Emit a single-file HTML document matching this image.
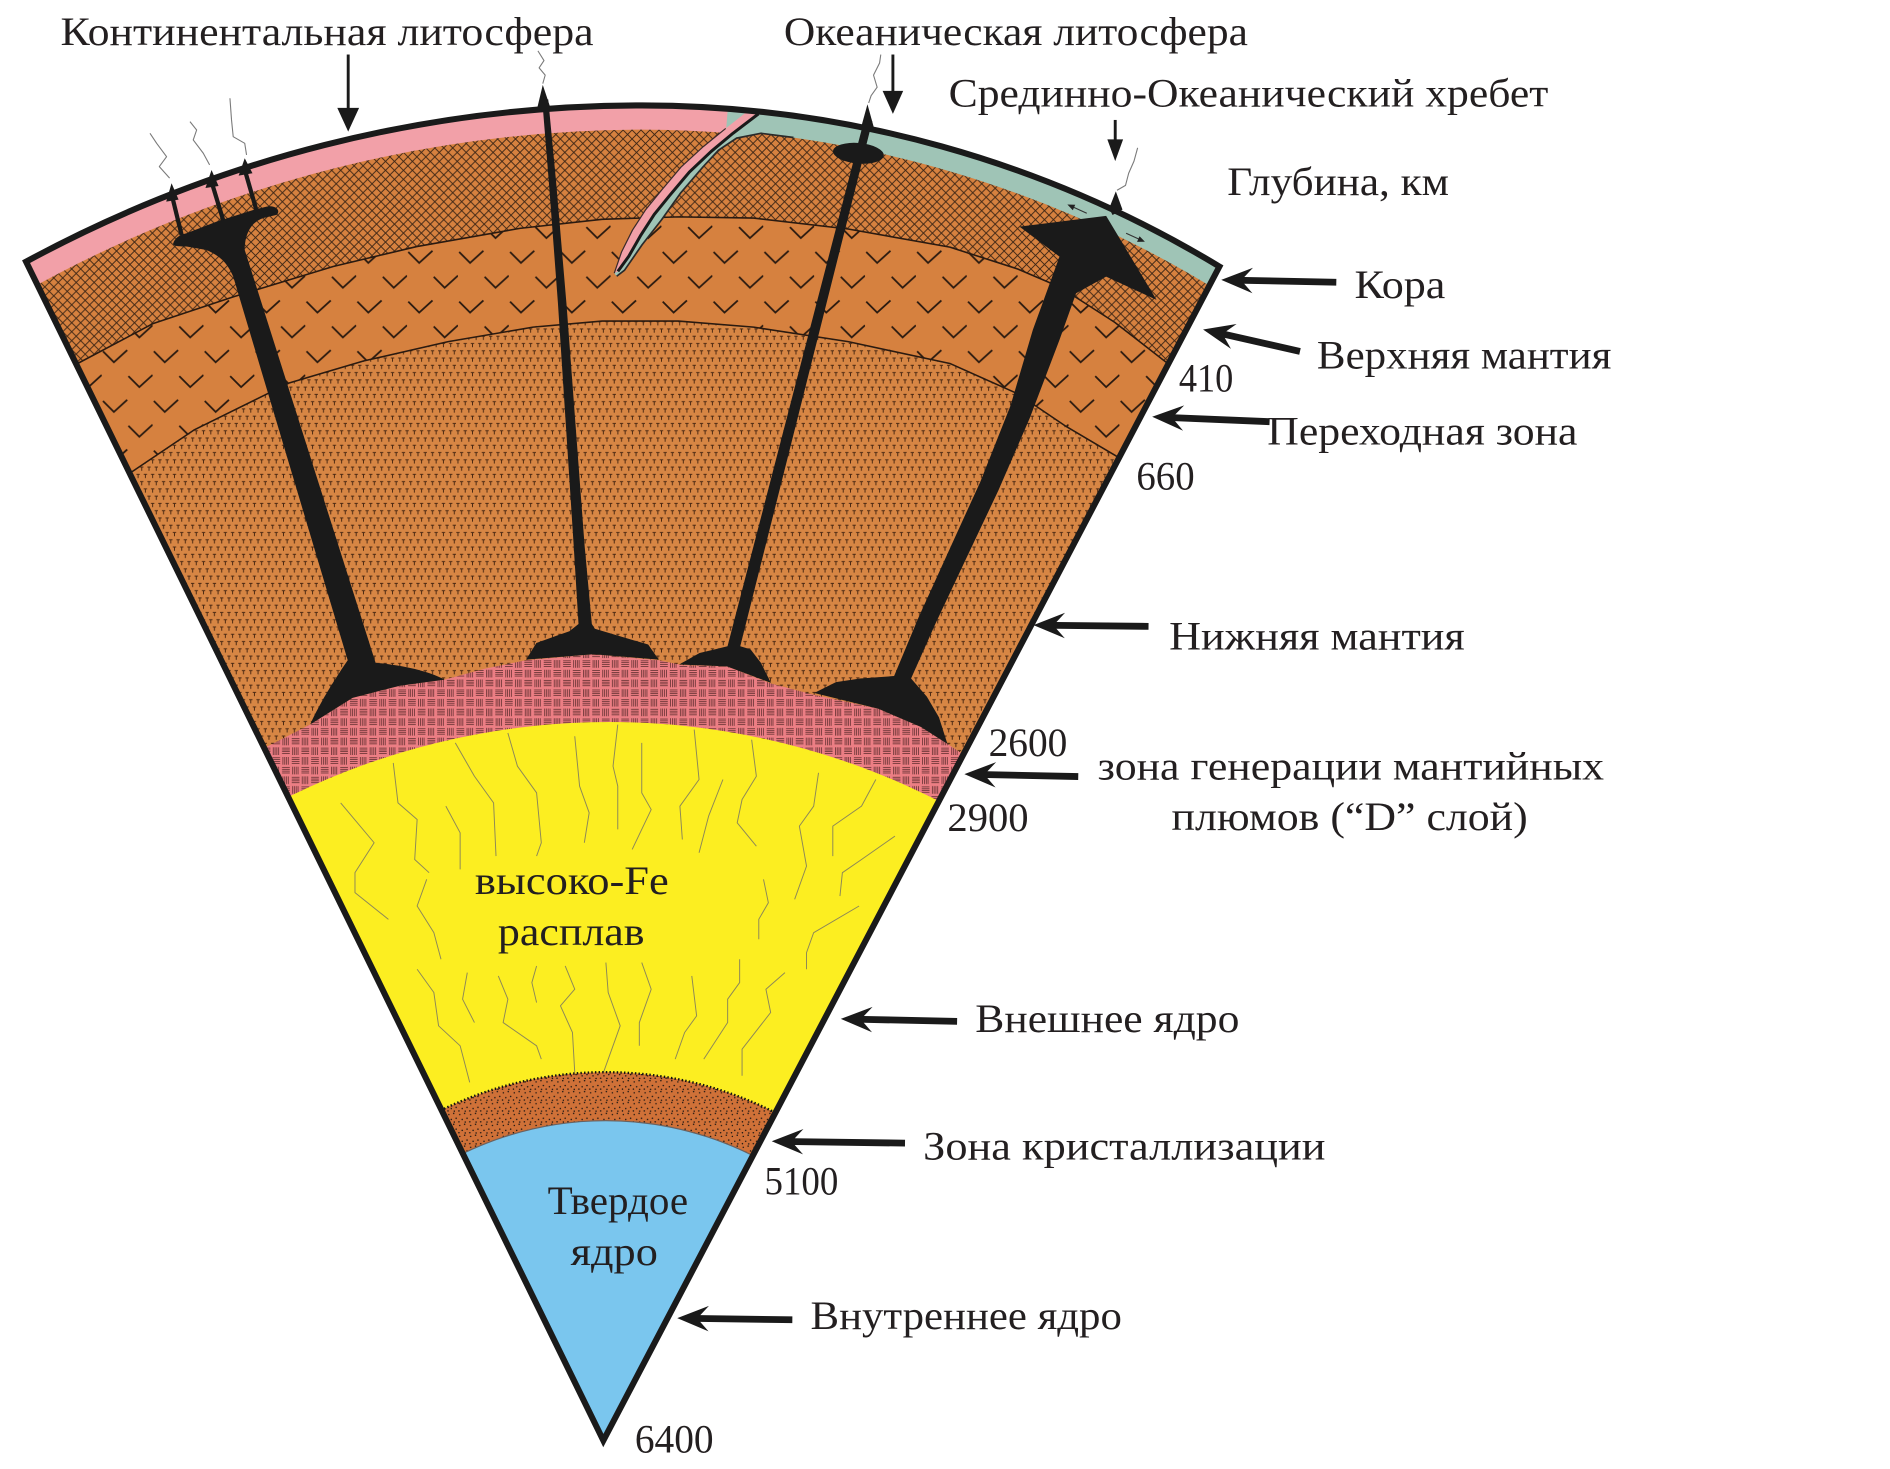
<!DOCTYPE html>
<html>
<head>
<meta charset="utf-8">
<style>
  html,body{margin:0;padding:0;background:#fff;width:1890px;height:1469px;overflow:hidden;}
  svg{display:block;}
  text{font-family:"Liberation Serif","DejaVu Serif",serif;font-size:33px;fill:#231f20;}
</style>
</head>
<body>
<svg xmlns="http://www.w3.org/2000/svg" width="1890" height="1469" viewBox="0 0 1560 1212.5">
  <defs>
    <clipPath id="wc">
      <path d="M498,1189 L21.5,216 A1066.7,1066.7 0 0 1 530,87 A920.1,920.1 0 0 1 1006.5,220 Z"/>
    </clipPath>
    <pattern id="xh" width="7.4" height="7.4" patternUnits="userSpaceOnUse">
      <rect width="7.4" height="7.4" fill="#D6813F"/>
      <path d="M0,0L7.4,7.4M7.4,0L0,7.4" stroke="#3a2414" stroke-width="0.75"/>
    </pattern>
    <pattern id="vv" width="42" height="41" patternUnits="userSpaceOnUse">
      <rect width="42" height="41" fill="#D6813F"/>
      <path d="M1,3 L10,12 L21,2 M22,23.5 L31,32.5 L42,22.5" stroke="#2a1a10" stroke-width="1.5" fill="none"/>
    </pattern>
    <pattern id="tt" width="6" height="12" patternUnits="userSpaceOnUse">
      <rect width="6" height="12" fill="#D78644"/>
      <path d="M1.6,1.5H4.4M3,1.5V4.6M-1.4,7.5H1.4M0,7.5V10.6M4.6,7.5H7.4M6,7.5V10.6" stroke="#4a2812" stroke-width="0.8"/>
    </pattern>
    <pattern id="dd" width="16" height="16" patternUnits="userSpaceOnUse">
      <rect width="16" height="16" fill="#EC7E84"/>
      <path d="M0.8,1.5H7.2M0.8,3H7.2M0.8,4.5H7.2M0.8,6H7.2
               M9.5,0.8V7.2M11,0.8V7.2M12.5,0.8V7.2M14,0.8V7.2
               M1.5,8.8V15.2M3,8.8V15.2M4.5,8.8V15.2M6,8.8V15.2
               M8.8,9.5H15.2M8.8,11H15.2M8.8,12.5H15.2M8.8,14H15.2" stroke="#3a1818" stroke-width="0.5"/>
    </pattern>
    <pattern id="dots" width="9" height="9" patternUnits="userSpaceOnUse">
      <rect width="9" height="9" fill="#CF7138"/>
      <g fill="#111">
        <circle cx="1.5" cy="2" r="0.6"/><circle cx="5.5" cy="1" r="0.6"/>
        <circle cx="7.5" cy="5" r="0.6"/><circle cx="3.5" cy="6" r="0.6"/>
        <circle cx="0.8" cy="8" r="0.6"/><circle cx="6" cy="8.2" r="0.6"/>
      </g>
    </pattern>
  </defs>

  <g clip-path="url(#wc)">
    <rect x="0" y="0" width="1100" height="1200" fill="url(#xh)"/>
    <path d="M20,322 L66,299 L126.5,267 L192.5,245 L275,220 L344,203.5 L429,188.5 L497,181 L560,179 L622,180 L700,189 L784,204 L840,222 L875,237 L920,266 L960,297 L1010,335 L1010,1200 L20,1200 Z" fill="url(#vv)"/>
    <polyline points="20,322 66,299 126.5,267 192.5,245 275,220 344,203.5 429,188.5 497,181 560,179 622,180 700,189 784,204 840,222 875,237 920,266 960,297 1010,335" fill="none" stroke="#2a1a10" stroke-width="1.3" stroke-linejoin="round"/>
    <path d="M60,420 L108,390 L160,355 L239,316 L300,298 L370,282 L440,270 L497,265 L560,265 L622,270 L700,282 L784,300 L840,325 L880,352 L924,378 L970,405 L970,1200 L60,1200 Z" fill="url(#tt)"/>
    <polyline points="60,420 108,390 160,355 239,316 300,298 370,282 440,270 497,265 560,265 622,270 700,282 784,300 840,325 880,352 924,378 970,405" fill="none" stroke="#2a1a10" stroke-width="1.3" stroke-linejoin="round"/>
    <path d="M200,640 L219,617 L256,598 L291,576 L330,566 L367,561 L400,552 L434,545 L490,540 L544,545 L563,549 L600,550 L636,564 L670,573 L725,585 L760,600 L782,614 L800,626 L830,650 L830,760 L200,760 Z" fill="url(#dd)"/>
    <!-- Outer core -->
    <path d="M53,799.6 A599,599 0 0 1 953,799.6 L953,1200 L53,1200 Z" fill="#FCEE21"/>
    <g fill="none" stroke="#8c8758" stroke-width="0.8" stroke-linejoin="round">
      <polyline points="324.6,629.7 328.5,662.7 344.3,676.4 342.3,709.4 354.2,720.3"/>
      <polyline points="375.8,613.2 391.6,640.7 407.4,662.7 409.4,706.6"/>
      <polyline points="419.2,605 427.1,632.4 442.9,654.4 446.8,695.6 442.9,706.6"/>
      <polyline points="474.4,607.7 478.4,648.9 486.3,670.9 482.3,695.6"/>
      <polyline points="509.9,598.1 506,632.4 509.9,648.9 509.9,684.6"/>
      <polyline points="529.7,613.2 529.7,654.4 537.5,668.2 521.8,701.1"/>
      <polyline points="573,602.2 577,643.4 561.2,665.4 563.2,692.9"/>
      <polyline points="596.7,643.4 584.9,673.6 577,703.9"/>
      <polyline points="620.4,610.5 624.3,640.7 612.5,659.9 608.5,679.1 624.3,698.4"/>
      <polyline points="675.6,637.9 671.6,665.4 659.8,681.9 665.7,714.9 655.9,742.3"/>
      <polyline points="722.9,643.4 711.1,665.4 687.4,681.9 687.4,706.6"/>
      <polyline points="738.7,690.1 711.1,709.4 695.3,720.3 693.3,739.6"/>
      <polyline points="281.2,662.7 308.8,695.6 293,720.3 293,736.8 320.6,758.8"/>
      <polyline points="368,665.4 379.8,687.4 379.8,717.6"/>
      <polyline points="352.2,725.8 344.3,747.8 358.1,769.8 364,791.8"/>
      <polyline points="630.2,725.8 634.2,745.1 626.3,758.8 626.3,775.3"/>
      <polyline points="709.1,747.8 671.6,769.8 665.7,786.3 665.7,800"/>
      <polyline points="344.3,800 358.1,819.2 362,846.7 379.8,863.2 387.7,893.4"/>
      <polyline points="385.7,802.8 381.8,824.7 391.6,844"/>
      <polyline points="411.3,805.5 419.2,824.7 415.3,844 442.9,863.2 446.8,874.2"/>
      <polyline points="442.9,797.3 439,811 442.9,827.5"/>
      <polyline points="466.5,797.3 474.4,816.5 462.6,830.2 472.5,852.2 474.4,885.2"/>
      <polyline points="500.1,794.5 502,819.2 511.9,846.7 498.1,885.2"/>
      <polyline points="529.7,794.5 537.5,816.5 527.7,844 527.7,863.2"/>
      <polyline points="571,805.5 575,838.5 565.1,852.2 557.3,874.2"/>
      <polyline points="610.5,791.8 610.5,811 600.6,824.7 600.6,844 580.9,874.2"/>
      <polyline points="647.9,802.8 632.2,816.5 636.1,835.7 612.5,866 612.5,887.9"/>
    </g>
    <!-- Crystallization zone -->
    <path d="M200,1116.9 A310,310 0 0 1 800,1116.9 L800,1200 L200,1200 Z" fill="url(#dots)"/>
    <path d="M200,1116.9 A310,310 0 0 1 800,1116.9" fill="none" stroke="#111" stroke-width="2" stroke-dasharray="1.2 1.8"/>
    <!-- Inner core -->
    <path d="M240,1122.2 A270,270 0 0 1 760,1122.2 L760,1200 L240,1200 Z" fill="#7AC6EE"/>
    <path d="M240,1122.2 A270,270 0 0 1 760,1122.2" fill="none" stroke="#6a6260" stroke-width="1"/>

    <!-- Crust -->
    <path d="M0,241 A1056.7,1056.7 0 0 1 530,97 A910.1,910.1 0 0 1 605,100.2" stroke="#F2A0A8" stroke-width="20" fill="none" stroke-linecap="round"/>
    <path d="M600,98.7 A911.1,911.1 0 0 1 1100,296" stroke="#9FC4B6" stroke-width="18" fill="none"/>

    <!-- Subducting slab -->
    <path d="M618,91 L599,106 L580.5,121 L562,138 L546,157 L533,173 L522,190 L513,208 L507,225.5 L509,228 L515.5,223 L530,202 L546,181.5 L562,159 L580.5,137.5 L593,124 L608,114 L628,110 L655,113.5 L655,98 Z" fill="#9FC4B6"/>
    <polyline points="509,228 515.5,223 530,202 546,181.5 562,159 580.5,137.5 593,124 608,114 628,110 655,113.5" fill="none" stroke="#2a2a2a" stroke-width="1.4" stroke-linejoin="round"/>
    <path d="M618,91 L599,106 L580.5,121 L562,138 L546,157 L533,173 L522,190 L513,208 L507,225.5 L510,224 L519,211.5 L529,194 L540,177 L553,161 L569,142 L587,125 L605,110 L626,94 Z" fill="#F2A0A8"/>
    <polyline points="626,94 605,110 587,125 569,142 553,161 540,177 529,194 519,211.5 510,224" fill="none" stroke="#1a1a1a" stroke-width="2.5" stroke-linejoin="round"/>
    <polyline points="599,106 580.5,121 562,138 546,157 533,173 522,190 513,208 507,225.5" fill="none" stroke="#3a2a2a" stroke-width="1" stroke-linejoin="round"/>
  </g>

  <path d="M498,1189 L21.5,216 A1066.7,1066.7 0 0 1 530,87 A920.1,920.1 0 0 1 1006.5,220 Z" fill="none" stroke="#1a1a1a" stroke-width="5" stroke-linejoin="miter" stroke-miterlimit="20"/>

  <g fill="#1a1a1a">
    <!-- Plume 1 -->
    <path d="M143,200.8 C145,195 150,193.5 154,192.5 L178.8,182.9 L209,173.3 L220,170.5 C228,169 232,174 228.3,177.4 L217,180 C206,184 202,195 202,206.3 L209,228.3 L310,547 C330,549 352,553 367,561 L330,566 L291,576 L256,598 C262,585 270,570 287,545 L192.5,228.3 C188,218 183,212 170.5,206.3 L154,203.5 C147,203.5 142,203 143,200.8 Z"/>
    <polygon points="141.6,151.3 137.2,166.4 147.4,164.8"/>
    <polygon points="174.6,140.3 169.6,155.2 180.4,153.5"/>
    <polygon points="202,130.6 197,145 208.4,143"/>
    <!-- Plume 2 -->
    <path d="M447.5,82 L453,150 L460.5,250 L467,350 L473.5,450 L477.5,515 L470,521 L459.6,524.6 L442.7,530.7 L434.3,544.4 L490,540 L543.7,544.4 L535,532 L510,524.6 L491,519 L488.5,515 L482.5,450 L475,350 L467.5,250 L459,150 L452.5,82 Z"/>
    <polygon points="448,70 443,91 455,91"/>
    <!-- Plume 3 -->
    <path d="M713,100 L600.5,533.4 L590,536 L577.4,539 L560.6,548.5 L600,550 L636.3,563.6 L628,547 L619.5,536 L611,533.4 L720,100 Z"/>
    <polygon points="716,86 710.5,106 721.5,106"/>
    <ellipse cx="708.5" cy="126.5" rx="21" ry="8.5" transform="rotate(5 708.5 126.5)"/>
    <!-- Plume 4 (MOR) -->
    <path d="M841.5,187 L913,178.2 L954.6,247.5 L913,228.3 L888.2,242 L874.5,280.5 L850,345 L824,405 L797,462 L772,515 L752,560 L765,575 L775,592 L782,614 L760,600 L725,585 L672,572 L690,563 L710,560 L738,558 L758,510 L783,455 L809,398 L834,335 L852.5,272.3 L874.5,211.8 Z"/>
    <polygon points="921,158 915.5,172 918.3,177.5 926.5,173"/>
  </g>
  <g stroke="#1a1a1a" stroke-width="3.5">
    <line x1="149.9" y1="194" x2="141.6" y2="160"/>
    <line x1="184.3" y1="182" x2="174.6" y2="150"/>
    <line x1="211.8" y1="174" x2="202" y2="140"/>
  </g>
  <g stroke="#333" stroke-width="0.9">
    <line x1="897" y1="176" x2="885" y2="170.5"/>
    <line x1="929.5" y1="192.5" x2="941" y2="197.8"/>
  </g>
  <g fill="#222">
    <polygon points="881,168.8 887.5,169 885.5,173.5"/>
    <polygon points="945,199.5 938.5,199.6 940.6,195"/>
  </g>

  <g fill="none" stroke="#7a7a7a" stroke-width="0.9" stroke-linejoin="round">
    <polyline points="140,147 131.5,137.5 137.5,129.3 129.3,118.3 123.8,110"/>
    <polyline points="173,136.1 167.8,126.5 159.5,115.5 162.3,107.3 156.8,100.4"/>
    <polyline points="203.5,127.9 202,118.3 192.5,112.8 191.1,99 189.8,81.1"/>
    <polyline points="448,69 450,62 445,56 449,50 444,42"/>
    <polyline points="717,85 719,79 724,72 721,62 726,52 727,45"/>
    <polyline points="922,157 929,153 931.6,143 936,133 939,122"/>
  </g>

  <g stroke="#1a1a1a" stroke-width="2.4">
    <line x1="287.4" y1="45" x2="287.4" y2="92"/>
    <line x1="737" y1="45" x2="737" y2="78"/>
    <line x1="920.5" y1="99" x2="920.5" y2="117"/>
  </g>
  <g fill="#1a1a1a">
    <polygon points="287.4,108.6 278.4,89 296.4,89"/>
    <polygon points="737,94 728.5,75 745.5,75"/>
    <polygon points="920.5,133 914,115 927,115"/>
  </g>

  <g fill="#1a1a1a">
    <polygon transform="translate(1008,231) rotate(1.2)" points="0,0 26,-10.5 19,-2.8 95,-2.8 95,2.8 19,2.8 26,10.5"/>
    <polygon transform="translate(993,272) rotate(12.7)" points="0,0 26,-10.5 19,-2.8 82,-2.8 82,2.8 19,2.8 26,10.5"/>
    <polygon transform="translate(951,344) rotate(2.4)" points="0,0 26,-10.5 19,-2.8 97,-2.8 97,2.8 19,2.8 26,10.5"/>
    <polygon transform="translate(853,516) rotate(0.6)" points="0,0 26,-10.5 19,-2.8 95,-2.8 95,2.8 19,2.8 26,10.5"/>
    <polygon transform="translate(796,639) rotate(1.2)" points="0,0 26,-10.5 19,-2.8 94,-2.8 94,2.8 19,2.8 26,10.5"/>
    <polygon transform="translate(694,841) rotate(1.2)" points="0,0 26,-10.5 19,-2.8 96,-2.8 96,2.8 19,2.8 26,10.5"/>
    <polygon transform="translate(637,942) rotate(0.8)" points="0,0 26,-10.5 19,-2.8 110,-2.8 110,2.8 19,2.8 26,10.5"/>
    <polygon transform="translate(559,1088) rotate(0.8)" points="0,0 26,-10.5 19,-2.8 95,-2.8 95,2.8 19,2.8 26,10.5"/>
  </g>

  <text x="50" y="37" textLength="440" lengthAdjust="spacingAndGlyphs">Континентальная литосфера</text>
  <text x="647" y="37" textLength="383" lengthAdjust="spacingAndGlyphs">Океаническая литосфера</text>
  <text x="783" y="88" textLength="495" lengthAdjust="spacingAndGlyphs">Срединно-Океанический хребет</text>
  <text x="1013" y="161" textLength="183" lengthAdjust="spacingAndGlyphs">Глубина, км</text>
  <text x="1118" y="246" textLength="75" lengthAdjust="spacingAndGlyphs">Кора</text>
  <text x="1087" y="304" textLength="243" lengthAdjust="spacingAndGlyphs">Верхняя мантия</text>
  <text x="973" y="323" textLength="45" lengthAdjust="spacingAndGlyphs">410</text>
  <text x="1046" y="367" textLength="256" lengthAdjust="spacingAndGlyphs">Переходная зона</text>
  <text x="938" y="404" textLength="48" lengthAdjust="spacingAndGlyphs">660</text>
  <text x="965" y="536" textLength="244" lengthAdjust="spacingAndGlyphs">Нижняя мантия</text>
  <text x="816" y="624" textLength="65" lengthAdjust="spacingAndGlyphs">2600</text>
  <text x="906" y="643.5" textLength="418" lengthAdjust="spacingAndGlyphs">зона генерации мантийных</text>
  <text x="967" y="685" textLength="294" lengthAdjust="spacingAndGlyphs">плюмов (“D” слой)</text>
  <text x="782" y="686" textLength="67" lengthAdjust="spacingAndGlyphs">2900</text>
  <text x="392" y="738" textLength="160" lengthAdjust="spacingAndGlyphs">высоко-Fe</text>
  <text x="411" y="780" textLength="121" lengthAdjust="spacingAndGlyphs">расплав</text>
  <text x="805" y="852" textLength="218" lengthAdjust="spacingAndGlyphs">Внешнее ядро</text>
  <text x="762" y="957" textLength="332" lengthAdjust="spacingAndGlyphs">Зона кристаллизации</text>
  <text x="631" y="986" textLength="61" lengthAdjust="spacingAndGlyphs">5100</text>
  <text x="452" y="1002" textLength="116" lengthAdjust="spacingAndGlyphs">Твердое</text>
  <text x="471" y="1044" textLength="72" lengthAdjust="spacingAndGlyphs">ядро</text>
  <text x="669" y="1097" textLength="257" lengthAdjust="spacingAndGlyphs">Внутреннее ядро</text>
  <text x="524" y="1199" textLength="65" lengthAdjust="spacingAndGlyphs">6400</text>
</svg>
</body>
</html>
